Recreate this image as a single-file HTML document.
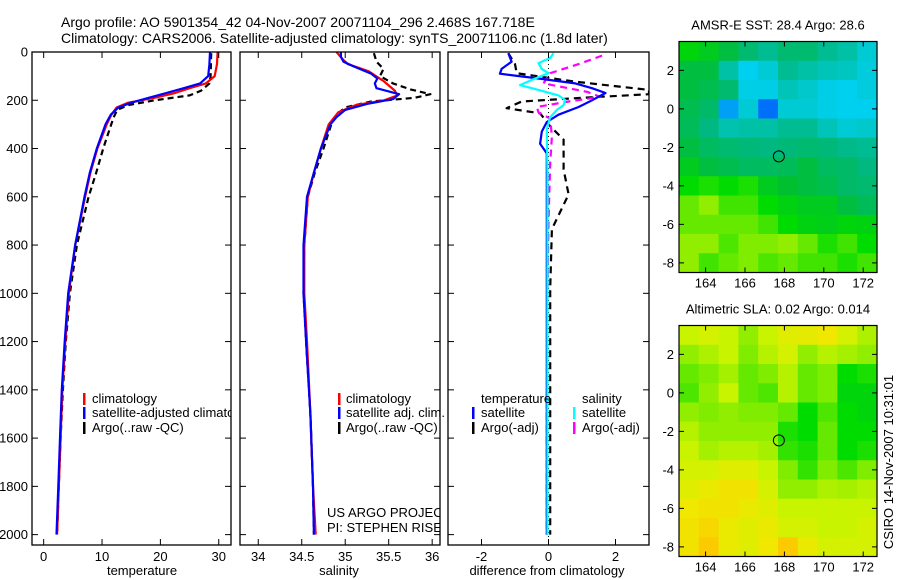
<!DOCTYPE html>
<html><head><meta charset="utf-8"><style>
body{margin:0;background:#fff;}
svg{display:block;font-family:"Liberation Sans",sans-serif;}
</style></head><body>
<svg id="c" width="900" height="580" viewBox="0 0 900 580" xmlns="http://www.w3.org/2000/svg">
<text x="61" y="27" font-size="14">Argo profile: AO 5901354_42 04-Nov-2007 20071104_296 2.468S 167.718E</text>
<text x="61" y="43" font-size="14">Climatology: CARS2006. Satellite-adjusted climatology: synTS_20071106.nc (1.8d later)</text>
</svg>
<script>
// ---------- data ----------
const tempTicks=[0,10,20,30];
const salTicks=[34,34.5,35,35.5,36];
const salTickLabels=["34","34.5","35","35.5","36"];
const diffTicks=[-2,0,2];
const depthTicks=[0,200,400,600,800,1000,1200,1400,1600,1800,2000];
const tempClimDepth=[0,50,100,130,150,170,190,210,230,260,300,400,500,600,800,1000,1200,1400,1600,1800,2000];
const tempClimVal=[29.8,29.7,29.3,27.8,25,22.5,19,14.5,12.5,11.6,10.8,9.2,8,7.1,5.4,4.3,3.7,3.2,2.9,2.6,2.3];
const tempSatDepth=[0,50,100,130,150,170,190,210,230,260,300,400,500,600,800,1000,1200,1400,1600,1800,2000];
const tempSatVal=[28.5,28.4,28.2,26.8,24,21,18,15,12.8,11.5,10.6,9.1,7.9,7.0,5.4,4.2,3.6,3.1,2.8,2.5,2.2];
const tempArgoDepth=[5,100,130,160,180,200,220,240,270,320,400,500,600,800,1000,1200,1400,1600,1800,2000];
const tempArgoVal=[28.7,28.6,28.4,27,25,19,14.5,12.6,12,11.3,10.2,9,7.7,5.7,4.5,3.8,3.3,2.9,2.6,2.3];
const salClimDepth=[0,30,50,80,120,160,180,200,220,250,300,400,500,600,800,1000,1200,1500,1800,2000];
const salClimVal=[34.9,34.97,35.03,35.27,35.44,35.57,35.6,35.45,35.12,34.92,34.81,34.72,34.64,34.57,34.53,34.53,34.56,34.6,34.63,34.66];
const salSatDepth=[0,20,40,60,90,110,130,150,175,195,215,240,270,300,400,500,600,800,1000,1200,1500,1800,2000];
const salSatVal=[34.95,34.95,34.98,35.1,35.3,35.37,35.34,35.36,35.62,35.55,35.25,35.0,34.9,34.83,34.72,34.64,34.56,34.52,34.52,34.55,34.6,34.63,34.64];
const salArgoDepth=[5,40,70,100,130,155,175,190,205,230,260,300,400,500,600,800,1000,1200,1500,1800,2000];
const salArgoVal=[35.33,35.36,35.44,35.4,35.55,35.75,35.98,35.8,35.3,35.0,34.9,34.84,34.75,34.65,34.57,34.53,34.52,34.55,34.6,34.63,34.64];
const dTempSatDepth=[5,40,70,90,110,130,150,170,200,228,260,290,330,380,420,600,1000,1500,2000];
const dTempSatVal=[-1.2,-1.1,-1.4,-1.45,-0.3,0.8,1.3,1.7,1.3,0.9,0.3,-0.05,-0.2,-0.25,-0.05,-0.05,-0.05,-0.05,-0.05];
const dTempArgoDepth=[5,50,88,123,157,175,190,205,233,254,308,363,487,590,734,981,1500,2000];
const dTempArgoVal=[-1.2,-1.0,-0.95,0.8,3.0,3.0,1.0,-0.8,-1.25,-0.25,0.05,0.45,0.45,0.6,0.1,0.05,0.05,0.05];
const dSalSatDepth=[5,25,46,70,88,110,137,157,180,199,220,240,270,320,500,1000,2000];
const dSalSatVal=[0.15,0.05,-0.3,-0.2,0,-0.4,-0.85,-0.3,0.3,0.5,0.45,0.25,0.05,-0.05,-0.03,-0.03,-0.03];
const dSalArgoDepth=[15,50,88,130,165,186,205,228,250,276,350,460,700,1000,1500,2000];
const dSalArgoVal=[1.6,0.9,0.05,-0.15,1.15,1.55,0.6,-0.35,-0.3,0.05,0.1,0.05,0,-0.03,-0.05,-0.05];
const lonTicks=[164,166,168,170,172];
const latTicks=[2,0,-2,-4,-6,-8];
const sstGrid=[
[0.58,0.55,0.5,0.44,0.4,0.44,0.44,0.4,0.38,0.33],
[0.5,0.5,0.38,0.3,0.33,0.4,0.38,0.36,0.35,0.32],
[0.5,0.48,0.44,0.31,0.31,0.36,0.34,0.31,0.3,0.32],
[0.48,0.45,0.25,0.33,0.2,0.33,0.33,0.31,0.3,0.3],
[0.47,0.42,0.37,0.38,0.38,0.4,0.4,0.36,0.33,0.34],
[0.5,0.46,0.44,0.43,0.42,0.43,0.44,0.43,0.41,0.4],
[0.55,0.5,0.48,0.46,0.46,0.47,0.5,0.46,0.45,0.42],
[0.6,0.62,0.6,0.62,0.55,0.52,0.5,0.48,0.45,0.44],
[0.68,0.72,0.65,0.65,0.6,0.57,0.55,0.55,0.5,0.47],
[0.68,0.68,0.68,0.68,0.65,0.6,0.57,0.56,0.58,0.57],
[0.72,0.72,0.66,0.7,0.7,0.72,0.68,0.62,0.65,0.6],
[0.72,0.65,0.68,0.7,0.66,0.68,0.65,0.65,0.62,0.65]];
const slaGrid=[
[0.78,0.8,0.78,0.72,0.78,0.82,0.83,0.85,0.8,0.75],
[0.72,0.75,0.78,0.7,0.76,0.8,0.72,0.76,0.74,0.72],
[0.68,0.7,0.74,0.68,0.7,0.76,0.68,0.7,0.6,0.62],
[0.66,0.72,0.78,0.68,0.66,0.76,0.68,0.7,0.58,0.58],
[0.72,0.7,0.72,0.7,0.7,0.68,0.6,0.66,0.6,0.58],
[0.76,0.72,0.72,0.72,0.72,0.62,0.6,0.68,0.6,0.6],
[0.78,0.74,0.76,0.76,0.74,0.64,0.62,0.68,0.6,0.62],
[0.8,0.8,0.82,0.82,0.78,0.7,0.64,0.7,0.66,0.7],
[0.82,0.84,0.86,0.86,0.8,0.72,0.72,0.75,0.74,0.76],
[0.85,0.86,0.86,0.84,0.82,0.78,0.78,0.78,0.78,0.78],
[0.86,0.88,0.84,0.82,0.84,0.8,0.8,0.78,0.78,0.8],
[0.86,0.9,0.84,0.82,0.85,0.9,0.84,0.8,0.8,0.8]];
const argoLon=167.718, argoLat=-2.468;

// ---------- helpers ----------
const NS="http://www.w3.org/2000/svg";
const svg=document.getElementById('c');
function mk(tag,attrs,parent){const e=document.createElementNS(NS,tag);for(const k in attrs)e.setAttribute(k,attrs[k]);(parent||svg).appendChild(e);return e;}
const PT=52,PB=545,DMAX=2043;
const FS=13;
const yD=d=>PT+(d/DMAX)*(PB-PT);
const defs=mk('defs',{});
function panel(id,x0,x1,d0,d1){
  const cp=mk('clipPath',{id:'clip'+id},defs);
  mk('rect',{x:x0,y:PT,width:x1-x0,height:PB-PT},cp);
  return {x0,x1,sx:v=>x0+(v-d0)/(d1-d0)*(x1-x0),clip:'url(#clip'+id+')'};
}
function frame(p,name){
  const r=mk('rect',{x:p.x0,y:PT,width:p.x1-p.x0,height:PB-PT,fill:'none',stroke:'#000','stroke-width':1.3});
  
  
  depthTicks.forEach(d=>{
    const y=yD(d);
    mk('line',{x1:p.x0,x2:p.x0+6,y1:y,y2:y,stroke:'#000'});
    mk('line',{x1:p.x1-6,x2:p.x1,y1:y,y2:y,stroke:'#000'});
  });
}
function txt(x,y,s,name,size,anchor){
  const t=mk('text',{x:x,y:y,'font-size':size||FS,'text-anchor':anchor||'start'});
  t.textContent=s;
  
  
  return t;
}
function xticks(p,ticks,labels,name){
  ticks.forEach((t,i)=>{
    const x=p.sx(t);
    mk('line',{x1:x,x2:x,y1:PT,y2:PT+6,stroke:'#000'});
    mk('line',{x1:x,x2:x,y1:PB-6,y2:PB,stroke:'#000'});
    txt(x,561,labels[i],name+'-tick-label',FS,'middle');
  });
}
function line(p,depths,vals,color,dash,name){
  const pts=depths.map((d,i)=>p.sx(vals[i]).toFixed(1)+','+yD(d).toFixed(1)).join(' ');
  const a={points:pts,fill:'none',stroke:color,'stroke-width':2.2,'clip-path':p.clip,'stroke-linejoin':'round'};
  if(dash)a['stroke-dasharray']=dash;
  const e=mk('polyline',a);
  
  
}
function legBar(x,y,color,name){
  const r=mk('rect',{x:x,y:y-11,width:2.5,height:12,fill:color});
  
  
}

// ---------- panel 1: temperature ----------
const p1=panel(1,32,231,-2,32.1);
line(p1,tempArgoDepth,tempArgoVal,'#000','6,4','temp-argo-line');
line(p1,tempClimDepth,tempClimVal,'#f00',null,'temp-climatology-line');
line(p1,tempSatDepth,tempSatVal,'#00f',null,'temp-satellite-line');
frame(p1,'temperature-panel');
xticks(p1,tempTicks,tempTicks.map(String),'temperature-x');
depthTicks.forEach(d=>{txt(28,yD(d)+4.5,String(d),'depth-tick-label',FS,'end');});
txt(142,575,'temperature','temperature-axis-title',FS,'middle');
const g1=mk('g',{'clip-path':p1.clip});
legBar(83,404,'#f00','legend-climatology-marker');
legBar(83,418,'#00f','legend-satellite-marker');
legBar(83,433,'#000','legend-argo-marker');
[['climatology',403],['satellite-adjusted climatology',417],['Argo(..raw -QC)',432]].forEach(a=>{g1.appendChild(txt(92,a[1],a[0],'legend-entry'));});

// ---------- panel 2: salinity ----------
const p2=panel(2,240,440,33.79,36.09);
line(p2,salArgoDepth,salArgoVal,'#000','6,4','sal-argo-line');
line(p2,salClimDepth,salClimVal,'#f00',null,'sal-climatology-line');
line(p2,salSatDepth,salSatVal,'#00f',null,'sal-satellite-line');
frame(p2,'salinity-panel');
xticks(p2,salTicks,salTickLabels,'salinity-x');
txt(339,575,'salinity','salinity-axis-title',FS,'middle');
legBar(338,404,'#f00','legend-climatology-marker');
legBar(338,418,'#00f','legend-satellite-marker');
legBar(338,433,'#000','legend-argo-marker');
[['climatology',403],['satellite adj. clim.',417],['Argo(..raw -QC)',432]].forEach(a=>txt(346,a[1],a[0],'legend-entry'));
const g2=mk('g',{'clip-path':p2.clip});
g2.appendChild(txt(327,517,'US ARGO PROJECT','project-credit'));
g2.appendChild(txt(327,532,'PI: STEPHEN RISER','pi-credit'));

// ---------- panel 3: differences ----------
const p3=panel(3,448,649,-3,3);
const z=mk('line',{x1:p3.sx(0),x2:p3.sx(0),y1:PT,y2:PB,stroke:'#000','stroke-dasharray':'1,3'});


line(p3,dTempArgoDepth,dTempArgoVal,'#000','7,5','diff-temp-argo-line');
line(p3,dSalArgoDepth,dSalArgoVal,'#f0f','7,5','diff-sal-argo-line');
line(p3,dTempSatDepth,dTempSatVal,'#00f',null,'diff-temp-satellite-line');
line(p3,dSalSatDepth,dSalSatVal,'#0ff',null,'diff-sal-satellite-line');
frame(p3,'difference-panel');
xticks(p3,diffTicks,diffTicks.map(String),'difference-x');
txt(547,575,'difference from climatology','difference-axis-title',FS,'middle');
txt(481,403,'temperature','legend-temperature-header');
txt(582,403,'salinity','legend-salinity-header');
legBar(472,418,'#00f','legend-temp-satellite-marker');
legBar(472,433,'#000','legend-temp-argo-marker');
legBar(573,418,'#0ff','legend-sal-satellite-marker');
legBar(573,433,'#f0f','legend-sal-argo-marker');
txt(481,417,'satellite','legend-entry');txt(481,432,'Argo(-adj)','legend-entry');
txt(582,417,'satellite','legend-entry');txt(582,432,'Argo(-adj)','legend-entry');

// ---------- maps ----------
const stops=[[0,[0,0,144]],[0.15,[0,64,255]],[0.3,[0,208,240]],[0.42,[0,184,128]],[0.52,[0,192,48]],[0.6,[0,220,0]],[0.7,[128,236,0]],[0.78,[200,244,0]],[0.85,[240,232,0]],[0.92,[255,192,0]],[1,[255,144,0]]];
function cmap(v){for(let i=1;i<stops.length;i++){if(v<=stops[i][0]){const a=stops[i-1],b=stops[i],t=(v-a[0])/(b[0]-a[0]);return 'rgb('+a[1].map((c,k)=>Math.round(c+(b[1][k]-c)*t)).join(',')+')';}}return 'rgb(255,144,0)';}
const LON0=162.65,LON1=172.7,LAT0=3.5,LAT1=-8.5,MX0=679,MX1=877;
function map(top,grid,title,name){
  const bot=top+231;
  const sx=l=>MX0+(l-LON0)/(LON1-LON0)*(MX1-MX0);
  const sy=l=>top+(LAT0-l)/(LAT0-LAT1)*(bot-top);
  const rows=grid.length,cols=grid[0].length;
  const cw=(MX1-MX0)/cols,ch=(bot-top)/rows;
  grid.forEach((row,j)=>row.forEach((v,i)=>{
    const r=mk('rect',{x:MX0+i*cw,y:top+j*ch,width:cw+0.6,height:ch+0.6,fill:cmap(v)});
    
    
  }));
  const f=mk('rect',{x:MX0,y:top,width:MX1-MX0,height:bot-top,fill:'none',stroke:'#000','stroke-width':1.2});
  
  
  lonTicks.forEach(l=>{const x=sx(l);mk('line',{x1:x,x2:x,y1:top,y2:top+5,stroke:'#000'});mk('line',{x1:x,x2:x,y1:bot-5,y2:bot,stroke:'#000'});txt(x,bot+15,String(l),name+'-lon-label',FS,'middle');});
  latTicks.forEach(l=>{const y=sy(l);mk('line',{x1:MX0,x2:MX0+5,y1:y,y2:y,stroke:'#000'});mk('line',{x1:MX1-5,x2:MX1,y1:y,y2:y,stroke:'#000'});txt(674,y+4.5,String(l),name+'-lat-label',FS,'end');});
  const c=mk('circle',{cx:sx(argoLon),cy:sy(argoLat),r:5.5,fill:'none',stroke:'#000','stroke-width':1});
  
  
  txt(778,top-12,title,name+'-title',FS,'middle');
}
map(41.5,sstGrid,'AMSR-E SST: 28.4 Argo: 28.6','sst-map');
map(325.5,slaGrid,'Altimetric SLA: 0.02 Argo: 0.014','sla-map');
const st=txt(0,0,'CSIRO 14-Nov-2007 10:31:01','timestamp',FS,'middle');
st.setAttribute('transform','translate(893,462) rotate(-90)');
</script>
</body></html>
